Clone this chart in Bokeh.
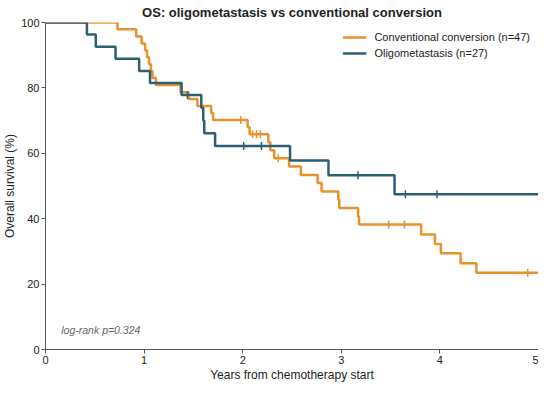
import numpy as np
from bokeh.plotting import figure
from bokeh.models import Legend, LegendItem, Label, Range1d
from bokeh.embed import file_html
from bokeh.resources import INLINE

# ---- data ----
conv_times = [0, 0.73, 0.92, 0.975, 1.01, 1.03, 1.05, 1.07, 1.085, 1.12, 1.37, 1.45, 1.54,
              1.68, 1.70, 2.05, 2.07, 2.26, 2.28, 2.32, 2.47, 2.59, 2.76, 2.80, 2.97, 2.98,
              3.17, 3.18, 3.81, 3.95, 4.01, 4.21, 4.37, 5.0]
conv_surv = [100, 97.9, 95.7, 93.6, 91.5, 89.4, 87.2, 85.1, 83.0, 80.9, 78.7, 76.6, 74.5,
             72.3, 70.2, 68.0, 65.8, 63.4, 60.9, 58.5, 56.0, 53.4, 50.9, 48.3, 45.8, 43.3,
             40.7, 38.2, 35.2, 32.3, 29.4, 26.4, 23.5, 23.5]
conv_cens_t = [1.98, 2.10, 2.14, 2.18, 2.36, 3.48, 3.64, 4.89]
conv_cens_s = [70.2, 65.8, 65.8, 65.8, 58.5, 38.2, 38.2, 23.5]

oligo_times = [0, 0.42, 0.51, 0.71, 0.95, 1.06, 1.38, 1.58, 1.60, 1.61, 1.72, 2.48, 2.87, 3.54, 5.0]
oligo_surv = [100, 96.3, 92.6, 88.9, 85.2, 81.5, 77.8, 73.9, 70.0, 66.1, 62.2, 57.8, 53.3, 47.5, 47.5]
oligo_cens_t = [1.44, 2.01, 2.19, 3.17, 3.65, 3.97]
oligo_cens_s = [77.8, 62.2, 62.2, 53.3, 47.5, 47.5]

x_ticks = [0, 1, 2, 3, 4, 5]
y_ticks = [0, 20, 40, 60, 80, 100]
labels = ["Conventional conversion (n=47)", "Oligometastasis (n=27)"]
title = "OS: oligometastasis vs conventional conversion"
pval_text = "log-rank p=0.324"

ORANGE = "#E8912D"
BLUE = "#2C5F72"
FONT = "Liberation Sans"
TXT = "#222222"

p = figure(width=538, height=384, output_backend="svg", toolbar_location=None,
           x_range=Range1d(0, 5), y_range=Range1d(0, 100),
           min_border_left=0, min_border_right=0, min_border_top=0, min_border_bottom=0)

p.title.text = title
p.title.align = "center"
p.title.text_font = FONT
p.title.text_font_size = "13px"
p.title.text_font_style = "bold"
p.title.text_color = TXT
p.title.standoff = 5

r_conv = p.step(conv_times, conv_surv, mode="after", line_width=2.5, color=ORANGE)
p.scatter(conv_cens_t, conv_cens_s, marker="dash", angle=np.pi / 2, size=8,
          line_width=1.5, color=ORANGE)
r_olig = p.step(oligo_times, oligo_surv, mode="after", line_width=2.5, color=BLUE)
p.scatter(oligo_cens_t, oligo_cens_s, marker="dash", angle=np.pi / 2, size=8,
          line_width=1.5, color=BLUE)

legend = Legend(items=[LegendItem(label=labels[0], renderers=[r_conv]),
                       LegendItem(label=labels[1], renderers=[r_olig])],
                location="top_right", border_line_alpha=0, background_fill_alpha=0,
                label_text_font=FONT, label_text_font_size="11px", label_text_color=TXT,
                glyph_width=24, glyph_height=14, label_height=14, spacing=2,
                padding=4, margin=4, label_standoff=8)
p.add_layout(legend)

p.add_layout(Label(x=0.16, y=6, text=pval_text, text_font=FONT, text_font_size="10.5px",
                   text_font_style="italic", text_color="#666666", text_baseline="middle"))

p.xaxis.ticker = x_ticks
p.yaxis.ticker = y_ticks
p.xaxis.axis_label = "Years from chemotherapy start"
p.yaxis.axis_label = "Overall survival (%)"
for ax in (p.xaxis, p.yaxis):
    ax.axis_label_text_font = FONT
    ax.axis_label_text_font_size = "12px"
    ax.axis_label_text_font_style = "normal"
    ax.axis_label_text_color = TXT
    ax.major_label_text_font = FONT
    ax.major_label_text_font_size = "11px"
    ax.major_label_text_color = TXT
    ax.axis_line_color = "#555555"
    ax.major_tick_line_color = "#555555"
    ax.major_tick_in = 0
    ax.major_tick_out = 4
    ax.minor_tick_line_color = None
    ax.major_label_standoff = 2
    ax.axis_label_standoff = 1
p.xgrid.grid_line_color = None
p.ygrid.grid_line_color = None
p.outline_line_color = None

open("out.html", "w").write(file_html(p, INLINE))
